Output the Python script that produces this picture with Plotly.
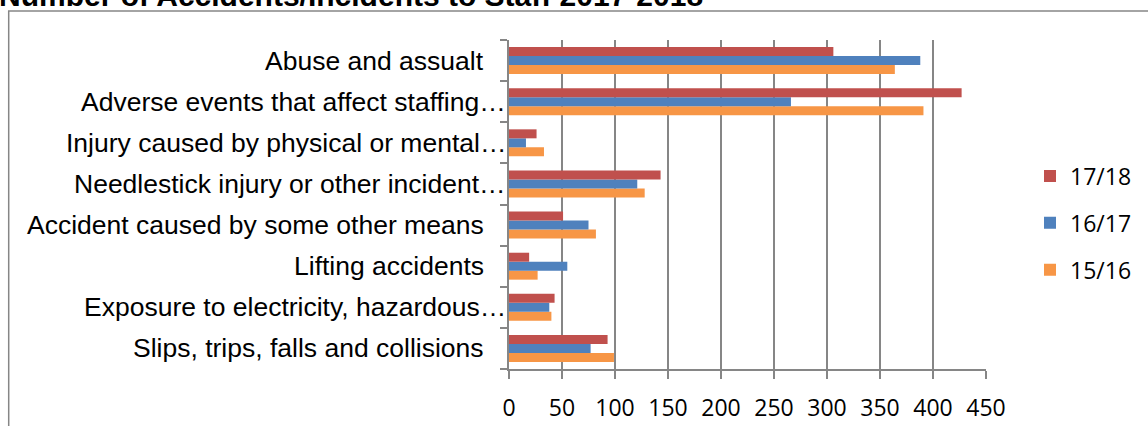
import plotly.graph_objects as go

# Incident categories, listed from the bottom of the chart to the top
categories = [
    "Slips, trips, falls and collisions",
    "Exposure to electricity, hazardous…",
    "Lifting accidents",
    "Accident caused by some other means",
    "Needlestick injury or other incident…",
    "Injury caused by physical or mental…",
    "Adverse events that affect staffing…",
    "Abuse and assualt",
]

# Number of accidents/incidents per year
y1516 = [99, 40, 27, 82, 128, 33, 391, 364]
y1617 = [77, 38, 55, 75, 121, 16, 266, 388]
y1718 = [93, 43, 19, 51, 143, 26, 427, 306]

# (name, values, colour, legend position)
series = [
    ("15/16", y1516, "#F79646", 3),
    ("16/17", y1617, "#4F81BD", 2),
    ("17/18", y1718, "#C0504D", 1),
]

x_ticks = [0, 50, 100, 150, 200, 250, 300, 350, 400, 450]
title_text = "Number of Accidents/Incidents to Staff 2017-2018"

GRID = "#868686"
W, H = 1148, 426
L, R, T, B = 509, 162, 40, 57
plot_w = W - L - R
plot_h = H - T - B


def px_x(px):
    return (px - L) / plot_w


def px_y(py):
    return (H - B - py) / plot_h


fig = go.Figure()
for i, (name, vals, color, rank) in enumerate(series):
    fig.add_trace(go.Bar(
        y=categories, x=vals, name=name, orientation="h",
        marker=dict(color=color, line=dict(width=0)),
        legendgroup=f"g{i}", legendrank=rank,
    ))

# Category labels placed against the category axis
for cat in categories:
    truncated = cat.endswith("…")
    fig.add_annotation(
        xref="paper", x=0, yref="y", y=cat,
        xanchor="right", yanchor="middle",
        xshift=-1 if truncated else -23,
        text=cat, showarrow=False,
        font=dict(family="Liberation Sans, Arial", size=26.5, color="#000000"),
    )

# Chart title
fig.add_annotation(
    xref="paper", x=px_x(-3), yref="paper", y=px_y(14),
    xanchor="left", yanchor="bottom",
    text="<b>" + title_text + "</b>", showarrow=False,
    font=dict(family="Liberation Sans, Arial", size=30, color="#000000"),
)

# Chart area border
fig.add_shape(
    type="rect", xref="paper", yref="paper",
    x0=px_x(8.7), x1=px_x(W + 20), y0=px_y(11), y1=px_y(H + 20),
    line=dict(color=GRID, width=1.5), fillcolor="rgba(0,0,0,0)", layer="below",
)

fig.update_layout(
    width=W, height=H,
    margin=dict(l=L, r=R, t=T, b=B, pad=0, autoexpand=False),
    paper_bgcolor="white", plot_bgcolor="white",
    barmode="group", bargap=0.345, bargroupgap=0,
    showlegend=True,
    legend=dict(
        x=px_x(1030), xanchor="left",
        y=px_y(223), yanchor="middle",
        traceorder="grouped", tracegroupgap=14,
        font=dict(family="Open Sans", size=23, color="#000000"),
        bgcolor="rgba(0,0,0,0)",
    ),
    xaxis=dict(
        range=[0, 450], tickvals=x_ticks,
        showgrid=True, gridcolor=GRID, gridwidth=2,
        zeroline=False, showline=True, linecolor=GRID, linewidth=2,
        ticks="outside", ticklen=8, tickcolor=GRID, tickwidth=2,
        ticklabelstandoff=9,
        tickfont=dict(family="Open Sans", size=23, color="#000000"),
        fixedrange=True, automargin=False,
    ),
    yaxis=dict(
        type="category", categoryorder="array", categoryarray=categories,
        showticklabels=False, showgrid=False, zeroline=False,
        showline=True, linecolor=GRID, linewidth=2,
        ticks="outside", tickson="boundaries", ticklen=7,
        tickcolor=GRID, tickwidth=2, fixedrange=True, automargin=False,
    ),
)

fig.write_html("out.html")
